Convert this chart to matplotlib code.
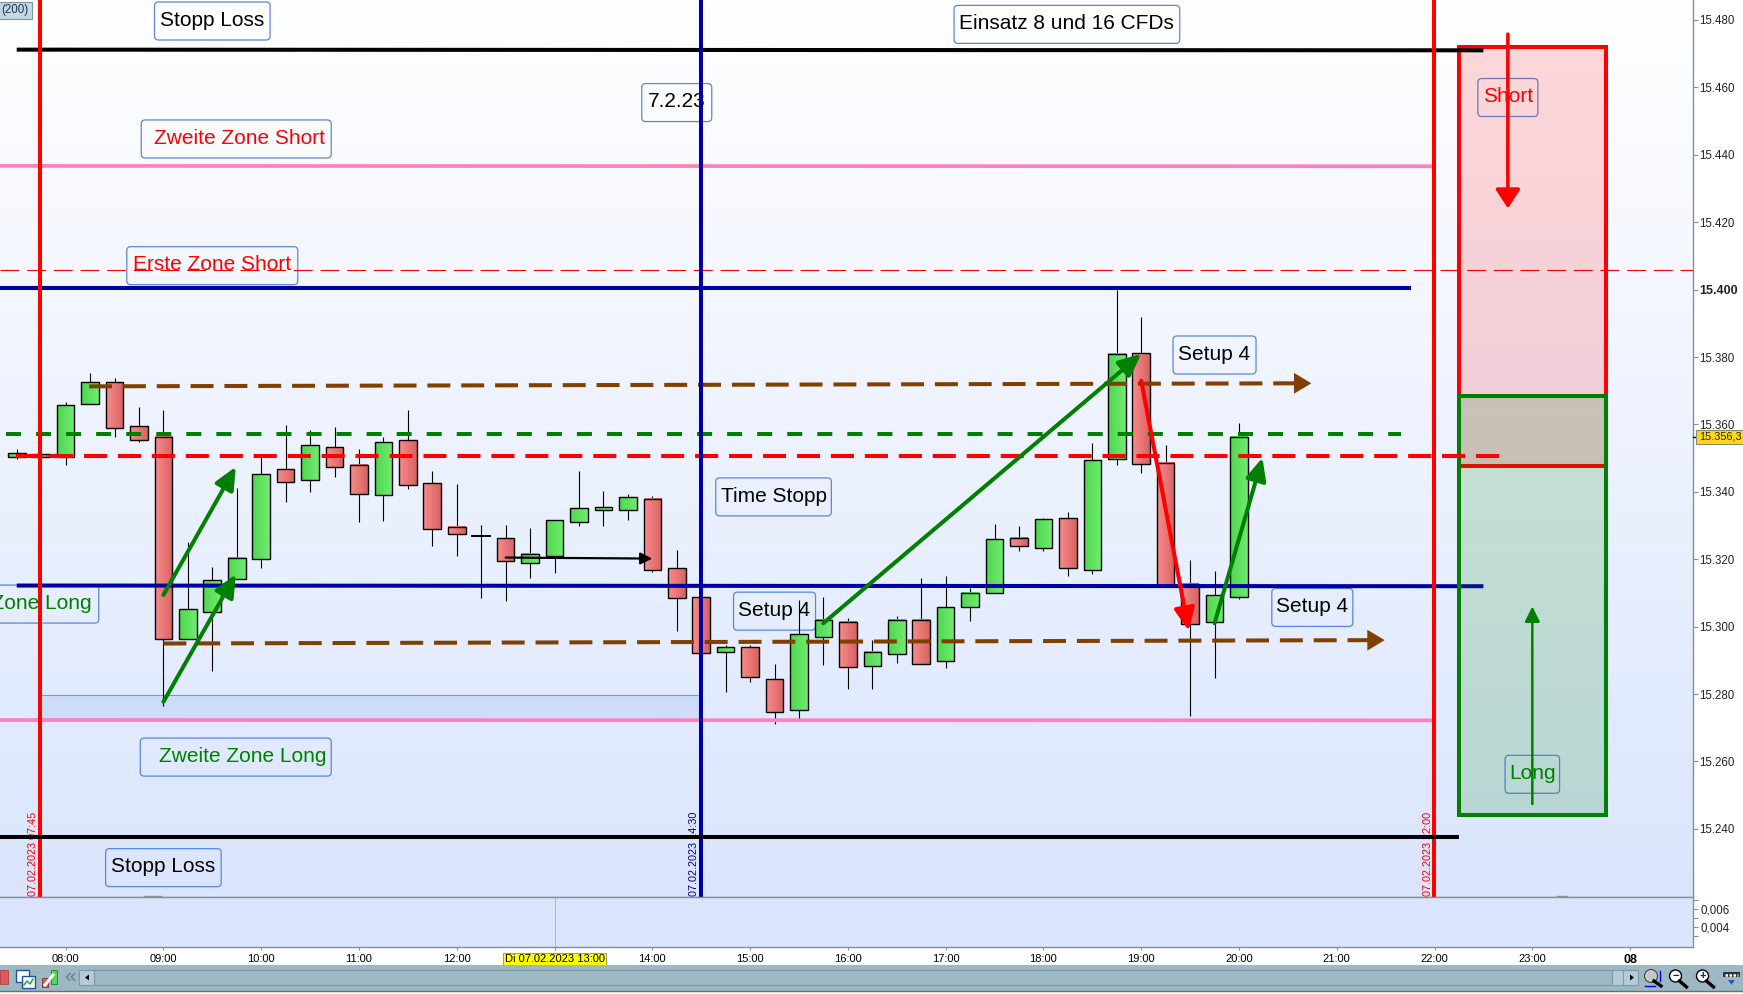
import matplotlib
matplotlib.use('Agg')
import matplotlib.pyplot as plt
import numpy as np
from matplotlib.colors import LinearSegmentedColormap
from matplotlib.patches import Rectangle, FancyBboxPatch, Circle, Polygon
from matplotlib.transforms import IdentityTransform, blended_transform_factory

plt.rcParams['font.family'] = ['Liberation Sans', 'DejaVu Sans']

# candles, 15 minute bars of 07.02.2023
candle_times = ['07:30', '07:45', '08:00', '08:15', '08:30', '08:45', '09:00', '09:15', '09:30', '09:45',
                '10:00', '10:15', '10:30', '10:45', '11:00', '11:15', '11:30', '11:45', '12:00', '12:15',
                '12:30', '12:45', '13:00', '13:15', '13:30', '13:45', '14:00', '14:15', '14:30', '14:45',
                '15:00', '15:15', '15:30', '15:45', '16:00', '16:15', '16:30', '16:45', '17:00', '17:15',
                '17:30', '17:45', '18:00', '18:15', '18:30', '18:45', '19:00', '19:15', '19:30', '19:45',
                '20:00']
opens = [15350.4, 15351.1, 15350.4, 15366.0, 15372.5, 15359.4, 15356.2, 15296.2, 15304.4, 15314.2,
         15320.1, 15346.7, 15343.6, 15353.2, 15348.1, 15339.1, 15355.3, 15342.5, 15329.7, 15326.9,
         15326.2, 15319.0, 15321.0, 15331.1, 15334.7, 15334.7, 15337.8, 15317.3, 15308.7, 15292.6,
         15293.9, 15284.4, 15275.4, 15296.8, 15301.3, 15288.2, 15291.8, 15301.9, 15289.7, 15305.7,
         15309.9, 15326.2, 15323.2, 15332.1, 15316.7, 15349.6, 15381.1, 15348.7, 15312.8, 15301.3,
         15308.7]
highs = [15352.7, 15351.1, 15366.6, 15375.2, 15373.8, 15365.2, 15364.3, 15325.1, 15317.7, 15341.1,
         15350.4, 15359.8, 15358.3, 15359.2, 15352.7, 15356.2, 15364.3, 15346.2, 15342.3, 15330.1,
         15330.1, 15329.3, 15331.5, 15346.2, 15340.2, 15339.3, 15338.7, 15322.7, 15309.0, 15294.5,
         15294.5, 15288.9, 15307.9, 15308.8, 15302.7, 15296.0, 15303.3, 15314.3, 15315.0, 15311.4,
         15330.6, 15329.8, 15332.2, 15333.9, 15354.4, 15399.9, 15391.9, 15353.9, 15319.8, 15316.5,
         15360.3]
lows = [15349.7, 15350.4, 15347.9, 15366.0, 15356.3, 15354.9, 15276.5, 15296.2, 15286.8, 15314.2,
        15317.4, 15337.0, 15339.9, 15344.4, 15331.0, 15331.3, 15340.8, 15323.9, 15320.9, 15308.5,
        15307.7, 15314.4, 15315.9, 15329.8, 15329.8, 15331.6, 15316.3, 15298.7, 15292.0, 15280.7,
        15283.7, 15271.1, 15272.5, 15288.6, 15281.6, 15281.6, 15289.3, 15288.8, 15287.8, 15301.8,
        15309.9, 15322.5, 15322.5, 15315.0, 15315.6, 15348.0, 15345.6, 15312.4, 15273.6, 15284.8,
        15308.3]
closes = [15351.4, 15350.4, 15365.7, 15372.5, 15359.0, 15355.5, 15296.2, 15305.1, 15313.7, 15320.5,
          15345.2, 15343.0, 15353.8, 15347.5, 15339.4, 15354.7, 15342.1, 15329.0, 15327.6, 15326.9,
          15319.6, 15321.7, 15331.5, 15335.1, 15335.4, 15338.4, 15316.7, 15308.4, 15292.3, 15293.9,
          15285.0, 15274.8, 15297.7, 15301.9, 15287.9, 15292.4, 15301.9, 15288.8, 15305.7, 15309.9,
          15325.9, 15323.8, 15331.8, 15317.3, 15349.3, 15380.8, 15348.2, 15312.4, 15300.7, 15309.3,
          15356.2]

price_ticks = [15240, 15260, 15280, 15300, 15320, 15340, 15360, 15380, 15400, 15420, 15440, 15460, 15480]
price_labels = ['15.240', '15.260', '15.280', '15.300', '15.320', '15.340', '15.360', '15.380', '15.400',
                '15.420', '15.440', '15.460', '15.480']
hour_ticks = [8, 9, 10, 11, 12, 13, 14, 15, 16, 17, 18, 19, 20, 21, 22, 23, 24]
hour_labels = ['08:00', '09:00', '10:00', '11:00', '12:00', 'Di 07.02.2023 13:00', '14:00', '15:00', '16:00',
               '17:00', '18:00', '19:00', '20:00', '21:00', '22:00', '23:00', '08']
sub_ticks = [0.006, 0.004]
sub_labels = ['0,006', '0,004']
last_price = 15356.3

# horizontal levels: start hour, end hour, start price, end price
black_levels = [(7.5, 22.5, 15471.2, 15471.0), (7.3, 22.255, 15237.6, 15237.6)]
pink_levels = [(7.3, 22.0, 15436.7, 15436.6), (7.3, 22.0, 15272.3, 15272.2)]
blue_levels = [(7.3, 21.76, 15400.4, 15400.4), (7.5, 22.5, 15312.2, 15312.0)]
green_dash = (7.39, 21.66, 15357.2, 15357.2)
red_dash = (7.49, 22.68, 15350.6, 15350.6)
brown_dashes = [(8.24, 20.74, 15371.3, 15372.2), (9.0, 21.49, 15295.0, 15296.0)]
thin_red_price = 15405.7

vlines_hours = [7.735, 14.497, 21.998]
vlines_colors = ['#ff0000', '#0000a0', '#ff0000']
vlines_texts = ['07.02.2023 07:45', '07.02.2023 14:30', '07.02.2023 22:00']

# arrows: from hour, from price, to hour, to price
green_arrows = [(9.0, 15277.7, 9.74, 15315.5), (9.0, 15309.4, 9.74, 15347.4),
                (15.748, 15301.0, 19.0, 15380.9), (19.75, 15301.0, 20.24, 15350.1)]
red_arrow = (19.0, 15373.0, 19.487, 15298.8)
black_arrow = (12.5, 15320.5, 14.0, 15320.2)
short_arrow = (22.75, 15475.8, 22.75, 15424.1)
long_arrow = (23.0, 15247.4, 23.0, 15306.0)

zone_hours = (22.25, 23.75)
short_zone = (15347.7, 15472.1)
long_zone = (15244.0, 15368.5)
shade_zone = (7.735, 14.497, 15272.2, 15279.6)
volume_ticks = [(8.8, 8.98), (23.25, 23.35)]

label_texts = ['Stopp Loss', 'Einsatz 8 und 16 CFDs', '7.2.23', 'Zweite Zone Short', 'Erste Zone Short',
               'Setup 4', 'Time Stopp', 'Setup 4', 'Setup 4', 'Erste Zone Long', 'Zweite Zone Long',
               'Stopp Loss', 'Short', 'Long']
label_hours = [9.50, 18.24, 14.25, 9.745, 9.50, 19.75, 15.24, 15.25, 20.75, 7.48, 9.74, 9.0, 22.75, 23.0]
label_prices = [15479.7, 15478.7, 15455.5, 15444.7, 15407.1, 15380.6, 15338.5, 15304.6, 15305.7, 15306.7,
                15261.3, 15228.5, 15457.0, 15256.2]
label_colors = ['black', 'black', 'black', '#ff0000', '#ff0000', 'black', 'black', 'black', 'black', '#008000',
                '#008000', 'black', '#ff0000', '#008000']
box_widths = [115.6, 225.7, 70, 190, 171, 83, 115.6, 82, 81, 168, 191, 115.6, 60, 54.5]
text_shifts = [0, 0, 0, 2.4, 0, 0, 0, 0, 0, 0, 4.8, 0, 0, 0]

W, H = 1743, 994
PLOT_R, MAIN_B, SUB_B = 1692.5, 897.3, 947.3
AXIS_GRAY = '#7f929c'

fig = plt.figure(figsize=(W / 100, H / 100), dpi=100, facecolor='white')
ax = fig.add_axes([0, 1 - MAIN_B / H, PLOT_R / W, MAIN_B / H])
sub = fig.add_axes([0, 1 - SUB_B / H, PLOT_R / W, (SUB_B - MAIN_B) / H])
xlim = (7.329, 24.638)
ylim = (15219.7, 15485.93)

# background gradient
bg_cmap = LinearSegmentedColormap.from_list('bg', ['#ffffff', '#dae5fd'])
ax.imshow(np.linspace(0, 1, 256).reshape(-1, 1), extent=[*xlim, *ylim], aspect='auto', cmap=bg_cmap, zorder=0)

# candles
red_cmap = LinearSegmentedColormap.from_list('r', ['#fa8c8c', '#d86262'])
green_cmap = LinearSegmentedColormap.from_list('g', ['#50d650', '#70ec70'])
grad = np.linspace(0, 1, 32).reshape(1, -1)
body_w = 0.18
for t, o, h, l, c in zip(candle_times, opens, highs, lows, closes):
    x = int(t[:2]) + int(t[3:]) / 60
    ax.plot([x, x], [l, h], color='black', lw=0.8, zorder=3, solid_capstyle='butt')
    if o == c:
        ax.plot([x - body_w / 2, x + body_w / 2], [o, o], color='black', lw=1.4, zorder=3.1)
        continue
    lo, hi = min(o, c), max(o, c)
    ax.imshow(grad, extent=[x - body_w / 2, x + body_w / 2, lo, hi], aspect='auto',
              cmap=green_cmap if c > o else red_cmap, zorder=3.1, interpolation='bilinear')
    ax.add_patch(Rectangle((x - body_w / 2, lo), body_w, hi - lo, fc='none', ec='black', lw=1.0, zorder=3.2))

# shaded block above the lower pink line
ax.fill_between(shade_zone[:2], shade_zone[2], shade_zone[3], color='#cddcfb', lw=0, zorder=1)
ax.plot(shade_zone[:2], [shade_zone[3]] * 2, color='#6f96e8', lw=0.8, zorder=1.1)

# zones
ax.add_patch(Rectangle((zone_hours[0], short_zone[0]), zone_hours[1] - zone_hours[0], short_zone[1] - short_zone[0],
                       fc=(1, 0, 0, 0.15), ec='#ff0000', lw=2.9, zorder=4, joinstyle='miter'))
ax.add_patch(Rectangle((zone_hours[0], long_zone[0]), zone_hours[1] - zone_hours[0], long_zone[1] - long_zone[0],
                       fc=(0, 0.5, 0, 0.16), ec='#008000', lw=2.9, zorder=4.1, joinstyle='miter'))

# level lines
for lv in pink_levels:
    ax.plot(lv[:2], lv[2:], color='#ff80c0', lw=2.7, zorder=4, solid_capstyle='butt')
for lv in blue_levels:
    ax.plot(lv[:2], lv[2:], color='#0000a0', lw=2.9, zorder=4, solid_capstyle='butt')
ax.plot(black_levels[0][:2], black_levels[0][2:], color='black', lw=2.9, zorder=4.2, solid_capstyle='butt')
ax.plot(black_levels[1][:2], black_levels[1][2:], color='black', lw=2.9, zorder=5, solid_capstyle='butt')
ax.axhline(thin_red_price, color='#ff0000', lw=0.8, ls=(0, (17, 7)), zorder=4.5)

ax.plot(green_dash[:2], green_dash[2:], color='#008000', lw=2.9, ls=(0, (3.73, 3.73)), dash_capstyle='butt', zorder=4.3)
ax.plot(red_dash[:2], red_dash[2:], color='#ff0000', lw=2.9, ls=(0, (5.73, 2.70)), dash_capstyle='butt', zorder=4.4)
for lv in brown_dashes:
    ax.plot([lv[0], lv[1] - 0.12], [lv[2], lv[3]], color='#804000', lw=2.9, ls=(0, (5.7, 2.7)),
            dash_capstyle='butt', zorder=4.3)
    ax.annotate('', xy=(lv[1], lv[3]), xytext=(lv[1] - 0.2, lv[3]),
                arrowprops=dict(arrowstyle='-|>,head_length=1.25,head_width=0.75', color='#804000', lw=0,
                                mutation_scale=10, shrinkA=0, shrinkB=0), zorder=4.3)

# vertical session lines
for hx, col, txt in zip(vlines_hours, vlines_colors, vlines_texts):
    ax.axvline(hx, color=col, lw=2.9, zorder=4.6)
    ax.text(hx - 0.07, ylim[0] + 0.4, txt, rotation=90, ha='center', va='bottom', color=col, fontsize=7.8, zorder=2)


def draw_arrow(a, color, lw, length, width):
    style = '-|>,head_length=%.2f,head_width=%.2f' % (length, width)
    ax.annotate('', xy=(a[2], a[3]), xytext=(a[0], a[1]),
                arrowprops=dict(arrowstyle=style, color=color, lw=lw, mutation_scale=10,
                                shrinkA=0, shrinkB=0), zorder=6)


for a in green_arrows:
    draw_arrow(a, '#008000', 2.9, 1.35, 0.62)
draw_arrow(red_arrow, '#ff0000', 2.9, 1.35, 0.62)
draw_arrow(black_arrow, 'black', 1.6, 0.7, 0.35)
draw_arrow(short_arrow, '#ff0000', 2.6, 1.15, 0.75)
draw_arrow(long_arrow, '#008000', 1.8, 0.9, 0.45)

ax.set_xlim(*xlim)
ax.set_ylim(*ylim)

# right price axis
ax.yaxis.tick_right()
ax.set_yticks(price_ticks)
ax.set_yticklabels(price_labels, fontsize=8.3, color='#222222')
ax.tick_params(axis='y', length=3.5, width=0.8, color=AXIS_GRAY, pad=1.5)
ax.get_yticklabels()[price_ticks.index(15400)].set_fontweight('bold')
ax.get_yticklabels()[price_ticks.index(15400)].set_fontsize(9)
ax.set_xticks([])
for side in ['left', 'top']:
    ax.spines[side].set_visible(False)
for side in ['right', 'bottom']:
    ax.spines[side].set_color(AXIS_GRAY)
    ax.spines[side].set_linewidth(1.0)

# text labels with rounded frames
for txt, hx, py, col, bw, shift in zip(label_texts, label_hours, label_prices, label_colors, box_widths, text_shifts):
    ax.annotate(txt, (hx, py), xytext=(shift, 0.5), textcoords='offset points', color=col, fontsize=15,
                ha='center', va='center', zorder=2, annotation_clip=False, clip_on=True)
    cx, cy = ax.transData.transform((hx, py))
    box = FancyBboxPatch((cx - bw / 2, cy - 19), bw, 38, boxstyle='round,pad=0,rounding_size=4',
                         fc='none', ec='#5a86e0', lw=0.9, transform=IdentityTransform(), zorder=2)
    box.set_clip_box(ax.bbox)
    ax.add_patch(box)

# last price tag
trans = blended_transform_factory(ax.transAxes, ax.transData)
ax.plot([1.0, 1.0027], [last_price, last_price], color='black', lw=1, transform=trans, clip_on=False, zorder=6)
ax.text(1.0163, last_price, '15.356,3', transform=trans, ha='center', va='center', fontsize=7.8, color='#222222',
        bbox=dict(boxstyle='square,pad=0.22', fc='#ffd71a', ec='#8a8a70', lw=0.8), clip_on=False, zorder=7)

# "(200)" tag
ax.text(7.345, 15484.6, '(200)', ha='left', va='top', fontsize=8.3, color='#223355',
        bbox=dict(boxstyle='square,pad=0.25', fc='#c5d6e4', ec='#7f929c', lw=0.8), zorder=7)

# lower panel
sub.set_facecolor('#dae5fd')
sub.set_xlim(*xlim)
sub.set_ylim(0.00178, 0.00733)
sub.axvline(13, color='#f0a0a0', lw=0.8)
sub.yaxis.tick_right()
sub.set_yticks(sub_ticks)
sub.set_yticklabels(sub_labels, fontsize=8.3, color='#222222')
sub.set_yticks([0.007, 0.005, 0.003], minor=True)
sub.tick_params(axis='y', which='both', length=3.5, width=0.8, color=AXIS_GRAY, pad=2)
sub.set_xticks(hour_ticks)
sub.set_xticklabels(hour_labels, fontsize=8, color='black')
sub.tick_params(axis='x', length=2.5, width=0.8, color=AXIS_GRAY, pad=2.5)
sub.get_xticklabels()[-1].set_fontweight('bold')
sub.get_xticklabels()[-1].set_fontsize(9)
sub.get_xticklabels()[5].set_bbox(dict(boxstyle='square,pad=0.12', fc='#ffff00', ec='#8a8a70', lw=0.6))
sub.spines['left'].set_visible(False)
for side in ['right', 'top', 'bottom']:
    sub.spines[side].set_color(AXIS_GRAY)
    sub.spines[side].set_linewidth(1.0)

# tiny volume marks on top of the lower panel edge
for x0, x1 in volume_ticks:
    ax.plot([x0, x1], [ylim[0] + 0.25, ylim[0] + 0.25], color='#8a8f98', lw=1.0, zorder=1)

# toolbar drawn in pixel coordinates
bar = fig.add_axes([0, 0, 1, 1], facecolor='none')
bar.set_xlim(0, W)
bar.set_ylim(H, 0)
bar.axis('off')
bar.add_patch(Rectangle((0, 965), W, 25.5, fc='#9cb8c3', ec='none'))
bar.plot([0, W], [990.7, 990.7], color='#5a7480', lw=1)
bar.add_patch(Rectangle((79.5, 970), 1558, 15, fc='#9cb8c3', ec='#7f9aa5', lw=0.8))
bar.add_patch(Rectangle((79.5, 970), 15, 15, fc='#b4ccd6', ec='#7f9aa5', lw=0.8))
bar.add_patch(Polygon([(85, 977.5), (89, 974.5), (89, 980.5)], fc='black'))
bar.add_patch(Rectangle((1611.7, 970), 11, 15, fc='#b4ccd6', ec='#7f9aa5', lw=0.8))
bar.add_patch(Rectangle((1623, 970), 15, 15, fc='#b4ccd6', ec='#7f9aa5', lw=0.8))
bar.add_patch(Polygon([(1634, 977.5), (1630, 974.5), (1630, 980.5)], fc='black'))
bar.text(70, 976.5, '«', color='#6f7f88', fontsize=15, ha='center', va='center')
# left icons
bar.add_patch(Rectangle((0, 970), 8, 14, fc='#e05a5a', ec='#b04040', lw=0.6))
bar.add_patch(Rectangle((16, 970), 13, 12, fc='white', ec='#2050a0', lw=1))
bar.add_patch(Rectangle((22, 976), 13, 12, fc='white', ec='#2050a0', lw=1))
bar.plot([24, 27, 30, 33], [985, 981, 984, 979], color='#20a020', lw=1)
bar.add_patch(Rectangle((42, 978), 6, 9, fc='#e05a5a', ec='#803030', lw=0.6))
bar.add_patch(Rectangle((51, 970), 6, 14, fc='#55d855', ec='#208020', lw=0.6))
bar.plot([45, 53], [985, 975], color='white', lw=2.2)
# right icons
for cx, sym in [(1675.5, '−'), (1702.5, '+')]:
    bar.plot([cx + 4, cx + 11], [977 + 4, 977 + 10], color='black', lw=2.4)
    bar.add_patch(Circle((cx, 976), 6, fc='white', ec='black', lw=1))
    bar.text(cx, 975.6, sym, color='#0000ff', fontsize=8, fontweight='bold', ha='center', va='center')
bar.plot([1654, 1661], [981, 986], color='black', lw=2.4)
bar.add_patch(Circle((1651, 976), 6.5, fc='#c8c8c8', ec='#444444', lw=0.8))
bar.plot([1660.5, 1660.5], [971, 981], color='#0000ff', lw=1)
bar.plot([1645, 1655], [985.5, 985.5], color='#0000ff', lw=1)
bar.add_patch(Rectangle((1723, 972), 17, 5, fc='#333333', ec='none'))
bar.plot([1725, 1738], [974.5, 974.5], color='white', lw=1.8, ls=(0, (1, 0.6)))
bar.add_patch(Polygon([(1728, 980), (1735, 980), (1731.5, 985)], fc='#2060d0'))

fig.savefig('out.png', dpi=100)
